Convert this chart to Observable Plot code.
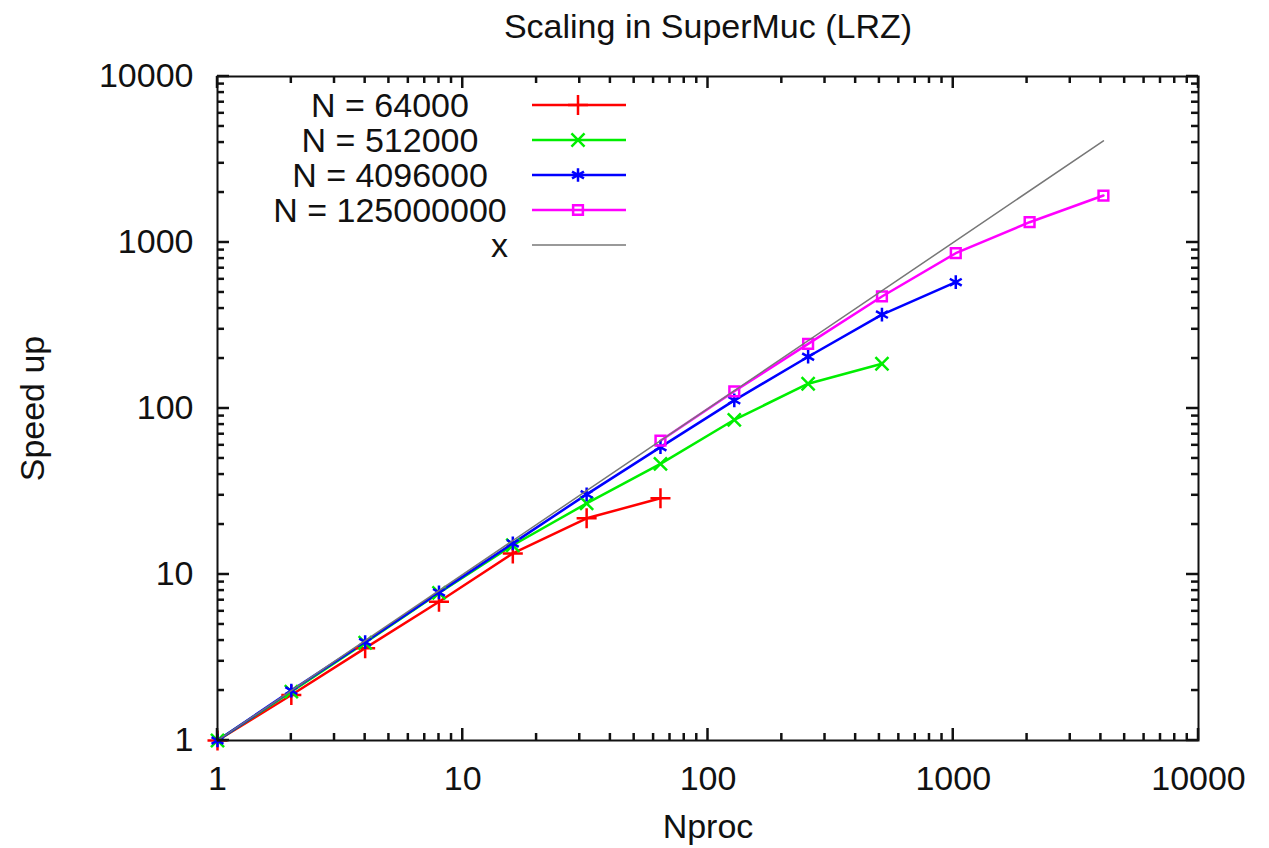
<!DOCTYPE html>
<html>
<head>
<meta charset="utf-8">
<script src="https://cdn.jsdelivr.net/npm/d3@7"></script>
<script src="https://cdn.jsdelivr.net/npm/@observablehq/plot@0.6"></script>
<style>
  html, body { margin: 0; padding: 0; background: #fff; }
</style>
</head>
<body>
<div id="chart"></div>
<script>
// ---- data ----
const nproc64k = [1, 2, 4, 8, 16, 32, 64];
const speed64k = [1, 1.88, 3.6, 6.85, 13.4, 21.8, 28.8];

const nproc512k = [1, 2, 4, 8, 16, 32, 64, 128, 256, 512];
const speed512k = [1, 1.97, 3.88, 7.75, 15.0, 26.8, 46.4, 85.5, 141, 186];

const nproc4096k = [1, 2, 4, 8, 16, 32, 64, 128, 256, 512, 1024];
const speed4096k = [1, 2.0, 3.92, 7.8, 15.4, 30.4, 58.5, 112, 205, 368, 577];

const nproc125M = [64, 128, 256, 512, 1024, 2048, 4096];
const speed125M = [64, 127, 245, 473, 862, 1325, 1919];

const idealX = [1, 4096];   // the "x" reference line, y = x

const seriesNames = ["N = 64000", "N = 512000", "N = 4096000", "N = 125000000", "x"];
const seriesColors = ["#ff0000", "#00ee00", "#0000ff", "#ff00ff", "#777777"];
const seriesSymbols = ["plus", "times", "asterisk", "square", null];

const majorTicks = [1, 10, 100, 1000, 10000];
const minorTicks = [];
for (const d of [1, 10, 100, 1000]) for (let k = 2; k <= 9; k++) minorTicks.push(d * k);

const titleText = "Scaling in SuperMuc (LRZ)";
const xLabel = "Nproc";
const yLabel = "Speed up";

// ---- build tables ----
const seriesData = [
  [nproc64k, speed64k],
  [nproc512k, speed512k],
  [nproc4096k, speed4096k],
  [nproc125M, speed125M]
].map(([xs, ys], i) => xs.map((x, j) => ({x, y: ys[j], s: seriesNames[i]})));
const idealData = idealX.map(x => ({x, y: x}));

const W = 1269, H = 848;
const mL = 217, mR = 71, mT = 76, mB = 108;
const FS = 34;
const MAJ = 12, MIN = 7;

const symbolMap = {plus: d3.symbolPlus, times: d3.symbolTimes, asterisk: d3.symbolAsterisk, square: d3.symbolSquare};
const symR = {plus: 6.5, times: 6, asterisk: 6.5, square: 5.5};

const marks = [];

// series lines and markers
seriesData.forEach((rows, i) => {
  marks.push(Plot.line(rows, {x: "x", y: "y", stroke: seriesColors[i], strokeWidth: 2.5}));
});
seriesData.forEach((rows, i) => {
  const sym = seriesSymbols[i];
  marks.push(Plot.dot(rows, {x: "x", y: "y", symbol: sym, r: symR[sym], stroke: seriesColors[i], fill: "none", strokeWidth: 2.5}));
});
// ideal line
marks.push(Plot.line(idealData, {x: "x", y: "y", stroke: seriesColors[4], strokeWidth: 1.5}));

// inward ticks on all four sides (gnuplot style, mirrored), positioned by Plot's scales
marks.push((index, scales, values, dims) => {
  const {x, y} = scales;
  const x0 = dims.marginLeft, x1 = dims.width - dims.marginRight;
  const y0 = dims.marginTop, y1 = dims.height - dims.marginBottom;
  const g = d3.create("svg:g").attr("stroke", "#111").attr("stroke-width", 2.5).attr("fill", "none");
  for (const [ticks, L] of [[majorTicks, MAJ], [minorTicks, MIN]]) {
    for (const t of ticks) {
      const px = x(t), py = y(t);
      g.append("line").attr("x1", px).attr("x2", px).attr("y1", y1).attr("y2", y1 - L);
      g.append("line").attr("x1", px).attr("x2", px).attr("y1", y0).attr("y2", y0 + L);
      g.append("line").attr("y1", py).attr("y2", py).attr("x1", x0).attr("x2", x0 + L);
      g.append("line").attr("y1", py).attr("y2", py).attr("x1", x1).attr("x2", x1 - L);
    }
  }
  return g.node();
});

// tick labels
marks.push(Plot.axisX({anchor: "bottom", ticks: majorTicks, tickSize: 0, tickPadding: 25, tickFormat: d => String(d), label: null, fill: "#111"}));
marks.push(Plot.axisY({anchor: "left", ticks: majorTicks, tickSize: 0, tickPadding: 24, tickFormat: d => String(d), label: null, fill: "#111"}));

marks.push(Plot.frame({stroke: "#111", strokeWidth: 2}));

// titles
marks.push(Plot.text([titleText], {frameAnchor: "top", lineAnchor: "middle", textAnchor: "middle", dy: -49, text: d => d, fontSize: FS, fill: "#111"}));
marks.push(Plot.text([xLabel], {frameAnchor: "bottom", lineAnchor: "middle", textAnchor: "middle", dy: 87, text: d => d, fontSize: FS, fill: "#111"}));
marks.push(Plot.text([yLabel], {frameAnchor: "left", lineAnchor: "middle", textAnchor: "middle", dx: -184, rotate: -90, text: d => d, fontSize: FS, fill: "#111"}));

// legend (gnuplot style key)
marks.push((index, scales, values, dims) => {
  const g = d3.create("svg:g");
  seriesNames.forEach((name, i) => {
    const y = 105 + 35 * i;
    const isX = i === 4;
    g.append("text")
      .attr("x", isX ? 508 : 390)
      .attr("y", y)
      .attr("dy", "0.36em")
      .attr("text-anchor", isX ? "end" : "middle")
      .attr("font-size", FS)
      .attr("fill", "#111")
      .text(name);
    g.append("line")
      .attr("x1", 532).attr("x2", 626).attr("y1", y).attr("y2", y)
      .attr("stroke", seriesColors[i]).attr("stroke-width", isX ? 1.5 : 2.5);
    const sym = seriesSymbols[i];
    if (sym) {
      const r = symR[sym];
      g.append("path")
        .attr("transform", `translate(578,${y})`)
        .attr("d", d3.symbol(symbolMap[sym], r * r * Math.PI)())
        .attr("fill", "none")
        .attr("stroke", seriesColors[i])
        .attr("stroke-width", 2.5);
    }
  });
  return g.node();
});

const chart = Plot.plot({
  width: W,
  height: H,
  marginLeft: mL,
  marginRight: mR,
  marginTop: mT,
  marginBottom: mB,
  style: {fontFamily: "'Liberation Sans', Arial, Helvetica, sans-serif", fontSize: FS + "px", background: "#fff", color: "#111"},
  x: {type: "log", domain: [1, 10000], axis: null},
  y: {type: "log", domain: [1, 10000], axis: null},
  marks
});
document.getElementById("chart").appendChild(chart);
</script>
</body>
</html>
